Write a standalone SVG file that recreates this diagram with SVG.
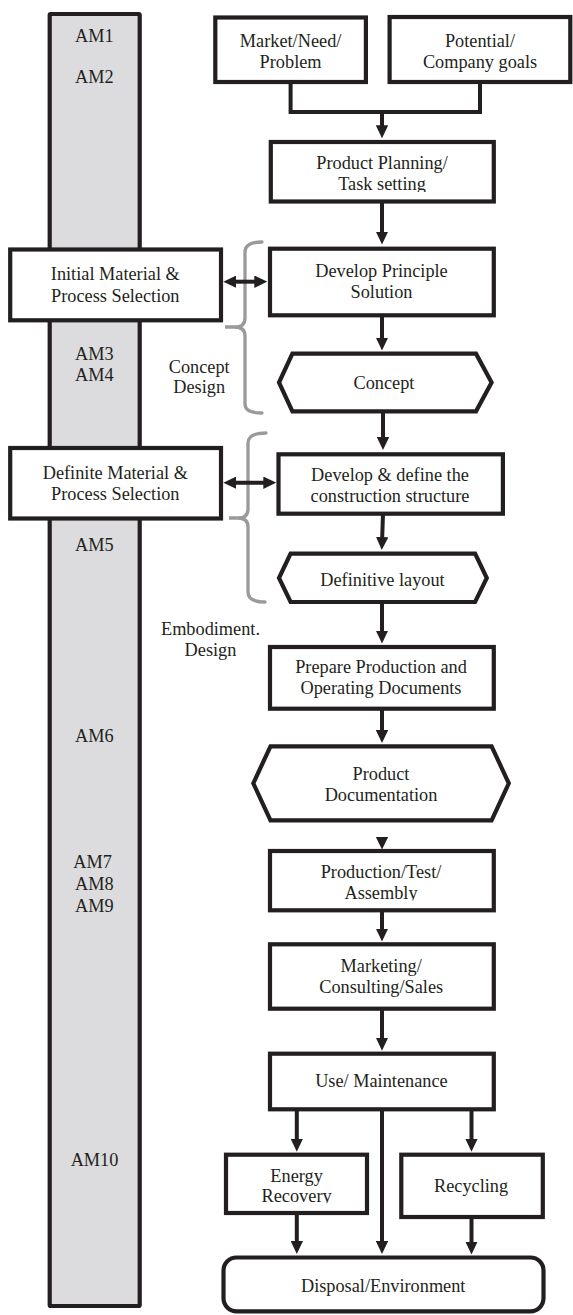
<svg xmlns="http://www.w3.org/2000/svg" width="573" height="1315" viewBox="0 0 573 1315">
<style>
.box{fill:#fff;stroke:#231f20;stroke-width:4.2;stroke-linejoin:miter}
.col{fill:#dcdcde;stroke:#231f20;stroke-width:4.2}
.t{font-family:"Liberation Serif","Times New Roman",serif;font-size:18.3px;fill:#231f20;text-anchor:middle}
.ln{fill:none;stroke:#231f20;stroke-width:4}
.ar{fill:none;stroke:#231f20;stroke-width:4;marker-end:url(#ah)}
.da{fill:none;stroke:#231f20;stroke-width:4;marker-end:url(#ah);marker-start:url(#ah)}
.br{fill:none;stroke:#9a9a9a;stroke-width:3.3;stroke-linecap:round}
.hd{fill:#231f20}
</style>
<defs>
<marker id="ah" viewBox="0 0 13 12.4" markerWidth="13" markerHeight="12.4" refX="6" refY="6.2" orient="auto-start-reverse" markerUnits="userSpaceOnUse"><path d="M0,0 L13,6.2 L0,12.4 z" fill="#231f20"/></marker>
<clipPath id="c1"><rect x="260" y="140" width="240" height="52"/></clipPath>
<clipPath id="c2"><rect x="260" y="850" width="240" height="50.5"/></clipPath>
<clipPath id="c3"><rect x="220" y="1150" width="150" height="53.3"/></clipPath>
</defs>

<g id="am-column">
<rect class="col" x="49.7" y="14" width="90" height="1292" rx="1"/>
<text class="t" x="94.3" y="41.7">AM1</text>
<text class="t" x="94.3" y="83.3">AM2</text>
<text class="t" x="94.3" y="360">AM3</text>
<text class="t" x="94.3" y="381">AM4</text>
<text class="t" x="94.3" y="550.7">AM5</text>
<text class="t" x="94.3" y="741.7">AM6</text>
<text class="t" x="92.5" y="868.3">AM7</text>
<text class="t" x="94.3" y="890">AM8</text>
<text class="t" x="94.3" y="911.7">AM9</text>
<text class="t" x="94.5" y="1166">AM10</text>
</g>

<g id="brackets">
<path class="br" d="M262,242 Q245,242 245,252 L245,318 Q245,327 235,327 L225,327 L235,327 Q245,327 245,336 L245,404 Q245,413 262,413"/>
<path class="br" d="M266,433 Q248,433 248,443 L248,509 Q248,518 238,518 L229,518 L238,518 Q248,518 248,527 L248,592 Q248,602 265,602"/>
</g>

<g id="connectors">
<polyline class="ln" points="290.6,82 290.6,112 480,112 480,82.5"/>
<line class="ar" x1="382" y1="110" x2="382" y2="131.3"/>
<line class="ar" x1="382" y1="201.5" x2="382" y2="237.5"/>
<line class="ar" x1="382" y1="315.3" x2="382" y2="343.5"/>
<line class="ar" x1="383" y1="411.3" x2="383" y2="443"/>
<line class="ar" x1="383" y1="513.7" x2="382" y2="543"/>
<line class="ar" x1="382" y1="602" x2="382" y2="636.5"/>
<line class="ar" x1="382" y1="708.7" x2="382" y2="736"/>
<polygon class="hd" points="375.8,837 388.2,837 382,849.5"/>
<line class="ar" x1="382" y1="910.3" x2="382" y2="934.5"/>
<line class="ar" x1="382" y1="1008.7" x2="382" y2="1043.7"/>
<line class="ar" x1="296.8" y1="1109.3" x2="296.8" y2="1144.7"/>
<line class="ar" x1="471.5" y1="1109.3" x2="471.5" y2="1144.7"/>
<line class="ar" x1="382" y1="1109.3" x2="382" y2="1247"/>
<line class="ar" x1="296.8" y1="1213" x2="296.8" y2="1247"/>
<line class="ar" x1="471.5" y1="1217" x2="471.5" y2="1247.5"/>
<line class="da" x1="230.3" y1="281.7" x2="260.3" y2="281.7"/>
<line class="da" x1="230.3" y1="482.7" x2="269.3" y2="482.7"/>
</g>

<g id="market">
<rect class="box" x="215.3" y="17.5" width="150.6" height="64.5"/>
<text class="t" x="290.6" y="47">Market/Need/</text>
<text class="t" x="290.6" y="67.5">Problem</text>
</g>
<g id="potential">
<rect class="box" x="389.6" y="17" width="180.7" height="65"/>
<text class="t" x="480" y="47">Potential/</text>
<text class="t" x="480" y="67.5">Company goals</text>
</g>
<g id="planning">
<rect class="box" x="270.8" y="142" width="223" height="59.5"/>
<text class="t" x="382" y="168.5">Product Planning/</text>
<text class="t" x="382" y="190" clip-path="url(#c1)">Task setting</text>
</g>
<g id="initial">
<rect class="box" x="10.2" y="249.5" width="210.8" height="70.8"/>
<text class="t" x="115.3" y="280">Initial Material &amp;</text>
<text class="t" x="115.3" y="301.7">Process Selection</text>
</g>
<g id="principle">
<rect class="box" x="270" y="248.7" width="223.8" height="66.6"/>
<text class="t" x="381.5" y="277.3">Develop Principle</text>
<text class="t" x="381.5" y="298.3">Solution</text>
</g>
<g id="concept-design-label">
<text class="t" x="199.2" y="372.7">Concept</text>
<text class="t" x="199.2" y="393.3">Design</text>
</g>
<g id="concept">
<polygon class="box" points="279,382.5 292.4,353.7 476,353.7 491.6,382.5 476,411.3 292.4,411.3"/>
<text class="t" x="384" y="389.3">Concept</text>
</g>
<g id="definite">
<rect class="box" x="10.2" y="448" width="210.8" height="70.5"/>
<text class="t" x="115.3" y="479">Definite Material &amp;</text>
<text class="t" x="115.3" y="500">Process Selection</text>
</g>
<g id="construction">
<rect class="box" x="278.5" y="454.3" width="224.4" height="59.4"/>
<text class="t" x="390" y="481">Develop &amp; define the</text>
<text class="t" x="390" y="501.7">construction structure</text>
</g>
<g id="layout">
<polygon class="box" points="279,578 290.6,553.7 475.1,553.7 486.8,578 475.1,602 290.6,602"/>
<text class="t" x="382.5" y="585.7">Definitive layout</text>
</g>
<g id="embodiment-label">
<text class="t" x="210.5" y="635">Embodiment.</text>
<text class="t" x="210.5" y="656">Design</text>
</g>
<g id="prepare">
<rect class="box" x="270" y="647" width="223.8" height="61.7"/>
<text class="t" x="381" y="673.3">Prepare Production and</text>
<text class="t" x="381" y="694">Operating Documents</text>
</g>
<g id="documentation">
<polygon class="box" points="253.3,783.3 270.5,746.3 491.6,746.3 508.8,783.3 491.6,820.3 270.5,820.3"/>
<text class="t" x="381" y="780">Product</text>
<text class="t" x="381" y="800.7">Documentation</text>
</g>
<g id="production">
<rect class="box" x="270" y="851" width="223.8" height="59.3"/>
<text class="t" x="381" y="878.3">Production/Test/</text>
<text class="t" x="381" y="899.3" clip-path="url(#c2)">Assembly</text>
</g>
<g id="marketing">
<rect class="box" x="270" y="944.3" width="223.8" height="64.4"/>
<text class="t" x="381.2" y="971.7">Marketing/</text>
<text class="t" x="381.2" y="993.3">Consulting/Sales</text>
</g>
<g id="use">
<rect class="box" x="270" y="1053.7" width="223.8" height="55.6"/>
<text class="t" x="381.4" y="1087.3">Use/ Maintenance</text>
</g>
<g id="energy">
<rect class="box" x="226" y="1154.7" width="141" height="58.3"/>
<text class="t" x="296.6" y="1181.7">Energy</text>
<text class="t" x="296.6" y="1202" clip-path="url(#c3)">Recovery</text>
</g>
<g id="recycling">
<rect class="box" x="401.3" y="1154.7" width="141.5" height="62.3"/>
<text class="t" x="471.1" y="1191.7">Recycling</text>
</g>
<g id="disposal">
<rect class="box" x="223.5" y="1257.5" width="320" height="53.8" rx="13"/>
<text class="t" x="383.2" y="1291.7">Disposal/Environment</text>
</g>
</svg>
